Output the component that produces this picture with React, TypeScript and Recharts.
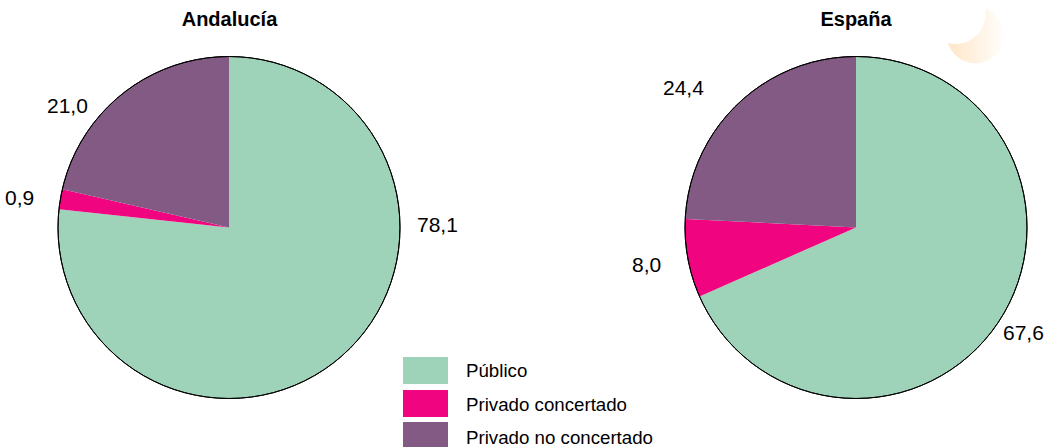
import React from "react";
import { PieChart, Pie, Cell, Legend } from "recharts";

const categories = ["Público", "Privado concertado", "Privado no concertado"];
const colors = ["#9fd3b9", "#f1047f", "#825a83"];
// slice sizes as drawn in the picture, they differ a little from the printed labels
const andalucia = [76.7, 1.9, 21.4];
const espana = [68.4, 7.4, 24.2];
const andaluciaText = ["78,1", "0,9", "21,0"];
const espanaText = ["67,6", "8,0", "24,4"];

const toRows = (values: number[]) =>
  values.map((value, i) => ({ name: categories[i], value }));

const font = "'Liberation Sans', Arial, sans-serif";

// hand placed in the original, not on the slice's mid angle
const andaluciaLabels = [
  { x: 417, y: 232 },
  { x: 5, y: 205 },
  { x: 47, y: 113 },
];
const espanaLabels = [
  { x: 1003, y: 340 },
  { x: 632, y: 272 },
  { x: 663, y: 95 },
];

const makeLabel = (spots: { x: number; y: number }[], texts: string[]) => (props: any) => (
  <text
    x={spots[props.index].x}
    y={spots[props.index].y}
    fill="#000"
    fontFamily={font}
    fontSize={21}
  >
    {texts[props.index]}
  </text>
);

const PieBlock = ({ rows, cx, spots, texts }: any) => (
  <Pie
    data={rows}
    dataKey="value"
    cx={cx}
    cy={227.5}
    outerRadius={171}
    startAngle={90}
    endAngle={-270}
    stroke="none"
    label={makeLabel(spots, texts)}
    labelLine={false}
    isAnimationActive={false}
  >
    {rows.map((row: any, i: number) => (
      <Cell key={row.name} fill={colors[i]} />
    ))}
  </Pie>
);

const Rim = ({ cx }: { cx: number }) => (
  <Pie
    data={[{ name: "rim", value: 1 }]}
    dataKey="value"
    cx={cx}
    cy={227.5}
    innerRadius={171}
    outerRadius={171}
    startAngle={90}
    endAngle={-270}
    fill="none"
    stroke="#000"
    strokeWidth={1}
    isAnimationActive={false}
  />
);

const LegendBox = () => (
  <div style={{ fontFamily: font, fontSize: 18.7, color: "#000" }}>
    {categories.map((name, i) => (
      <div
        key={name}
        style={{
          display: "flex",
          alignItems: "center",
          height: 27,
          marginBottom: 5.5,
        }}
      >
        <span style={{ width: 45, height: 27, background: colors[i] }} />
        <span style={{ marginLeft: 18, position: "relative", top: i === 0 ? 0 : 2 }}>{name}</span>
      </div>
    ))}
  </div>
);

export default function App() {
  return (
    <div style={{ position: "absolute", left: 0, top: 0, width: 1054, height: 447, overflow: "hidden", background: "#fff" }}>
      <PieChart width={1054} height={447} margin={{ top: 0, right: 0, bottom: 0, left: 0 }}>
        <defs>
          <linearGradient id="moon" x1="0" y1="0.5" x2="1" y2="0.5">
            <stop offset="0" stopColor="#fee6c8" />
            <stop offset="1" stopColor="#fffefc" />
          </linearGradient>
        </defs>
        {PieBlock({ rows: toRows(andalucia), cx: 229, spots: andaluciaLabels, texts: andaluciaText })}
        {PieBlock({ rows: toRows(espana), cx: 856, spots: espanaLabels, texts: espanaText })}
        {Rim({ cx: 229 })}
        {Rim({ cx: 856 })}
        <text x={229.5} y={26} textAnchor="middle" fontFamily={font} fontSize={20} fontWeight="bold" fill="#000">
          Andalucía
        </text>
        <text x={856} y={26} textAnchor="middle" fontFamily={font} fontSize={20} fontWeight="bold" fill="#000">
          España
        </text>
        <path d="M985 8 A28.5 28.5 0 1 1 948 43 A30 30 0 0 0 985 8 Z" fill="url(#moon)" />
        <Legend
          content={<LegendBox />}
          wrapperStyle={{ position: "absolute", left: 403, top: 357, width: 300, bottom: "auto" }}
        />
      </PieChart>
    </div>
  );
}
